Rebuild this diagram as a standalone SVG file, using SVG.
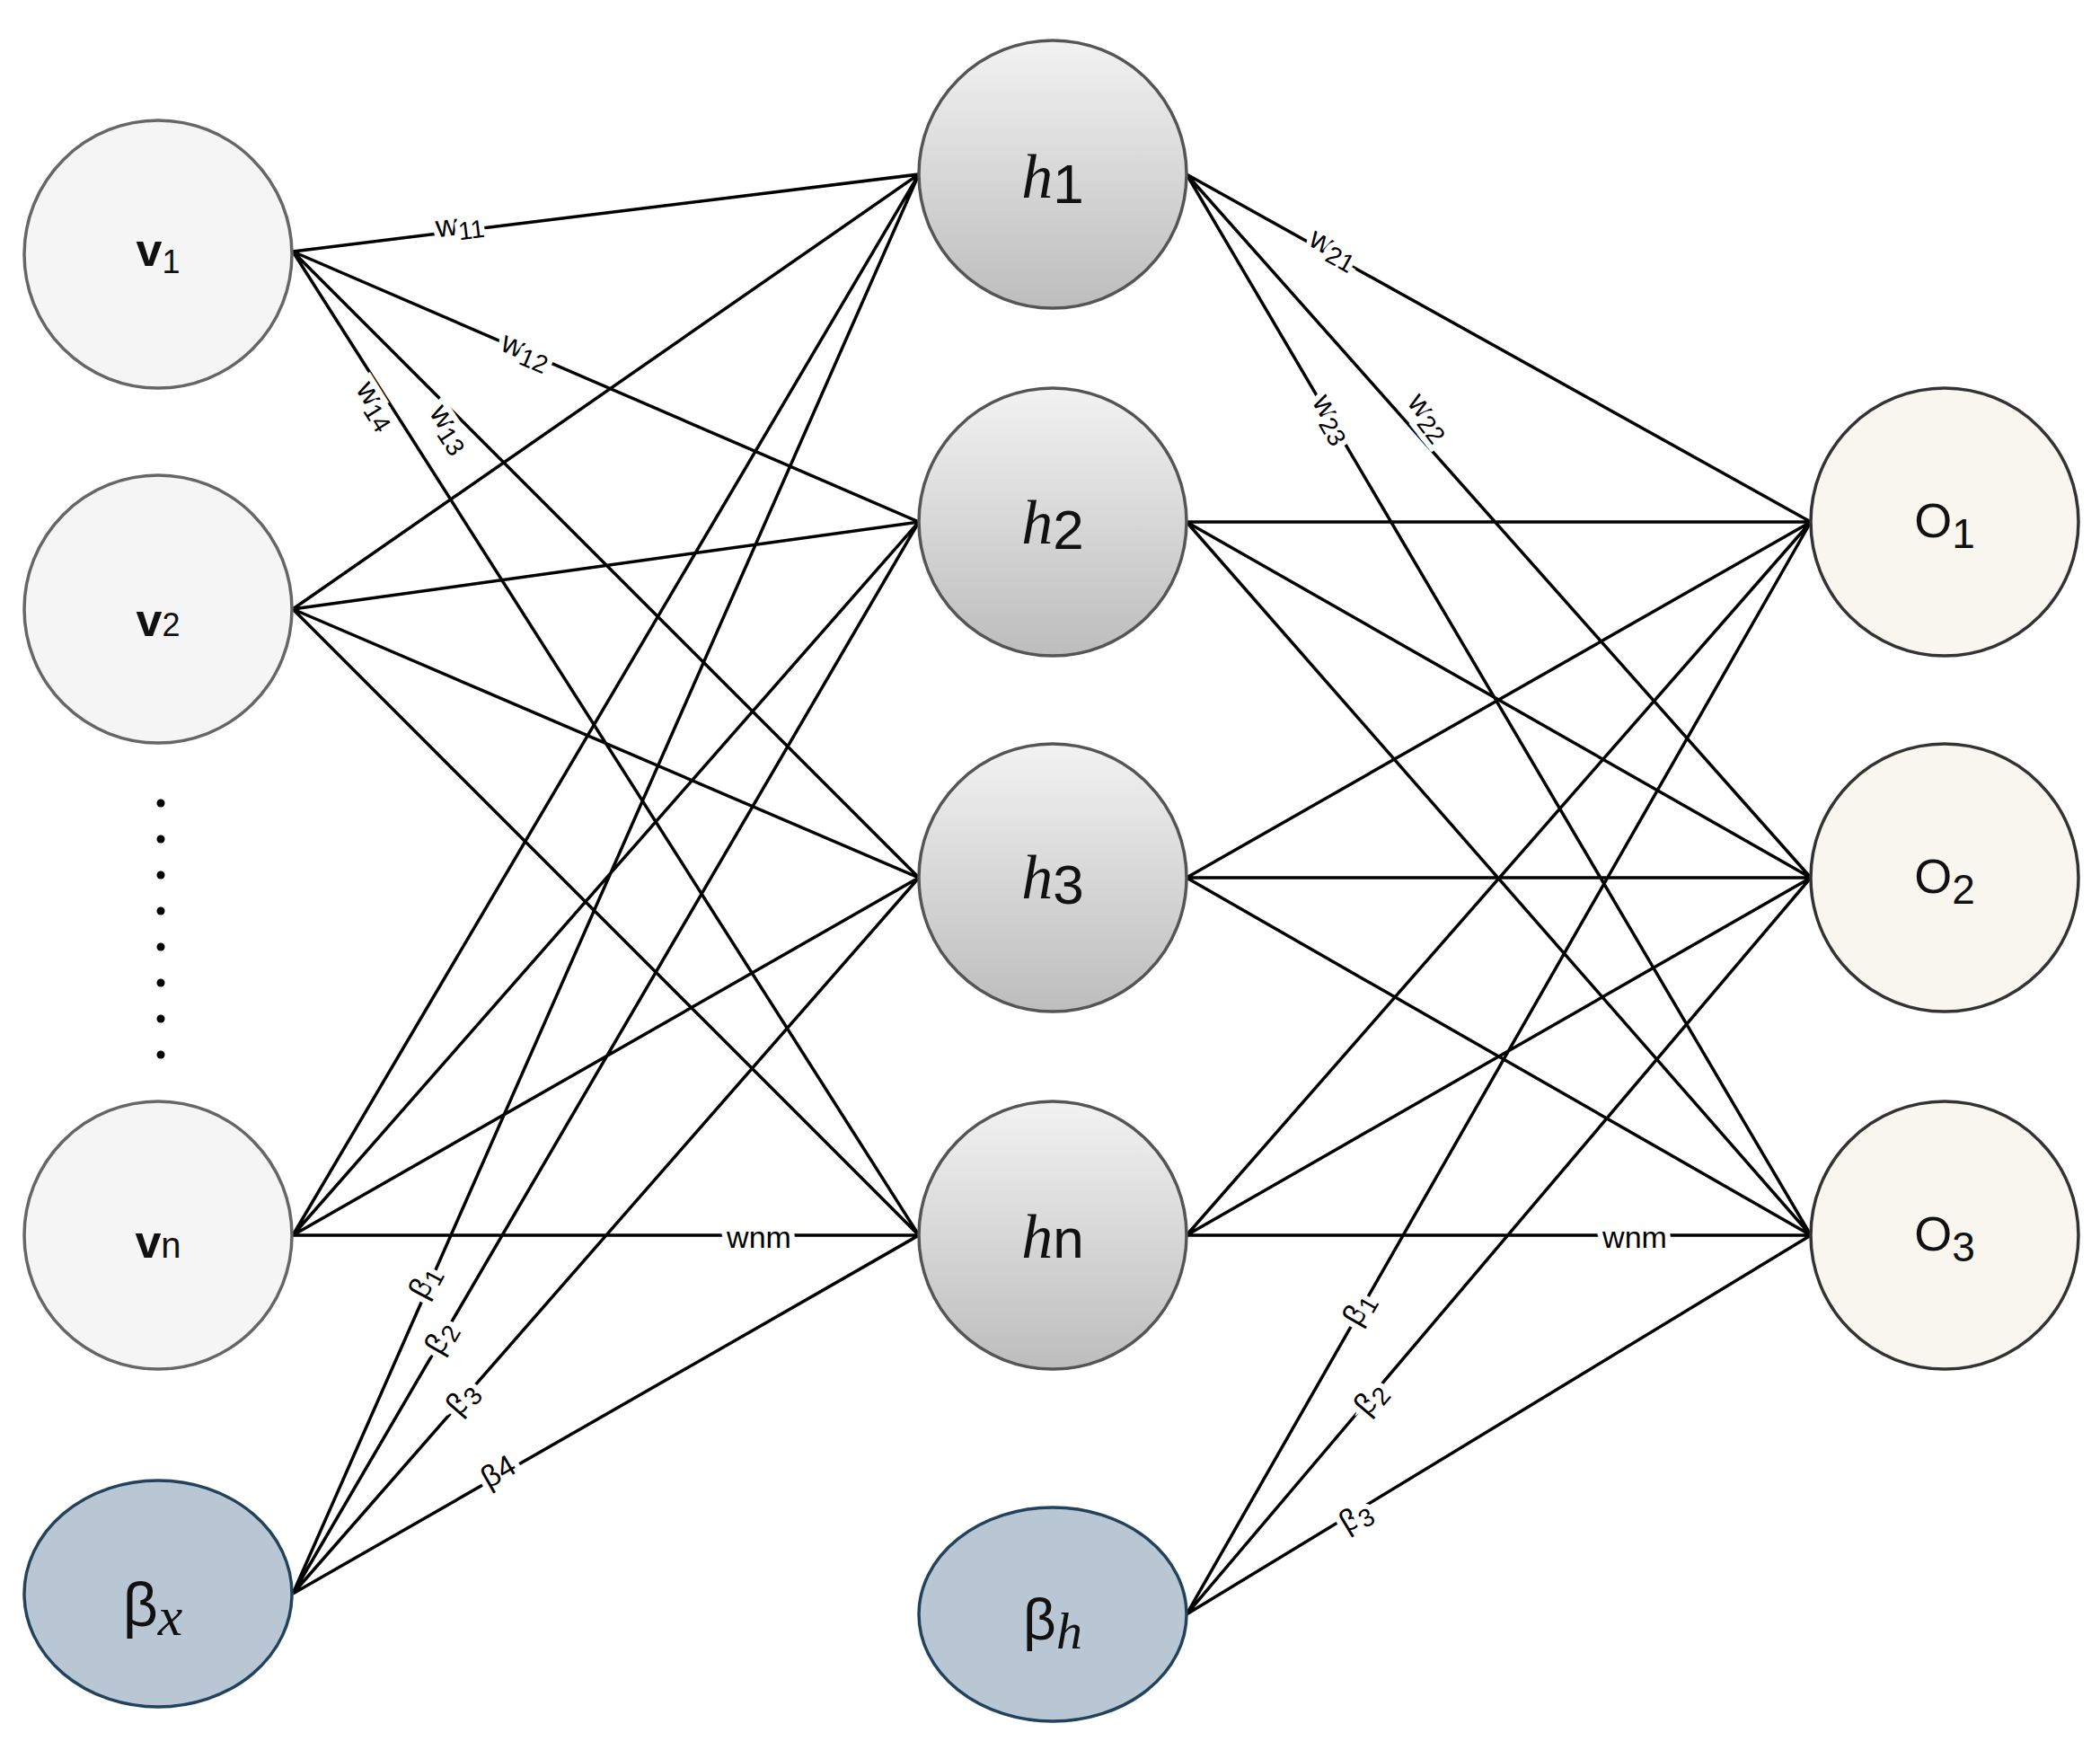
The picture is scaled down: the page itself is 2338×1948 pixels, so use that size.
<svg xmlns="http://www.w3.org/2000/svg" width="2338" height="1948" viewBox="0 0 2338 1948">
<defs>
<linearGradient id="hg" x1="0" y1="0" x2="0" y2="1"><stop offset="0" stop-color="#f2f2f2"/><stop offset="1" stop-color="#bdbdbd"/></linearGradient>
<style>
.e{stroke:#000;stroke-width:3.5;fill:none}
.in{fill:#f5f5f5;stroke:#666;stroke-width:3.5}
.hid{fill:url(#hg);stroke:#555;stroke-width:3.5}
.out{fill:#f8f6ee;stroke:#333;stroke-width:3.5}
.bias{fill:#b8c7d3;stroke:#23425c;stroke-width:3.5}
.lb{font-family:"Liberation Sans",Arial,sans-serif;font-size:34px;fill:#000;stroke:#fff;stroke-width:12px;paint-order:stroke;text-anchor:middle;dominant-baseline:middle}
.s{font-size:28px}
.nl{font-family:"Liberation Sans",Arial,sans-serif;fill:#111;text-anchor:middle}
.it{font-family:"Liberation Serif","Times New Roman",serif;font-style:italic}
</style>
</defs>
<g id="connectors">
<path class="e" d="M326,280L1023,194M326,280L1023,581M326,280L1023,977M326,280L1023,1375
M326,678L1023,194M326,678L1023,581M326,678L1023,977M326,678L1023,1375
M326,1375L1023,194M326,1375L1023,581M326,1375L1023,977M326,1375L1023,1375
M326,1774L1023,194M326,1774L1023,581M326,1774L1023,977M326,1774L1023,1375
M1321,194L2016,581M1321,194L2016,977M1321,194L2016,1375
M1321,581L2016,581M1321,581L2016,977M1321,581L2016,1375
M1321,977L2016,581M1321,977L2016,977M1321,977L2016,1375
M1321,1375L2016,581M1321,1375L2016,977M1321,1375L2016,1375
M1321,1797L2016,581M1321,1797L2016,977M1321,1797L2016,1375"/>
<text class="lb" transform="translate(512,252) rotate(-7)">w<tspan class="s" dy="8">11</tspan></text>
<text class="lb" transform="translate(585,392) rotate(23)">w<tspan class="s" dy="8">12</tspan></text>
<text class="lb" transform="translate(500,478) rotate(57)">w<tspan class="s" dy="8">13</tspan></text>
<text class="lb" transform="translate(418,452) rotate(58)">w<tspan class="s" dy="8">14</tspan></text>
<text class="lb" x="845" y="1380">wnm</text>
<text class="lb" transform="translate(1484,278) rotate(29)">w<tspan class="s" dy="8">21</tspan></text>
<text class="lb" transform="translate(1590,465) rotate(52)">w<tspan class="s" dy="8">22</tspan></text>
<text class="lb" transform="translate(1482,467) rotate(60)">w<tspan class="s" dy="8">23</tspan></text>
<text class="lb" x="1820" y="1380">wnm</text>
<text class="lb" transform="translate(474,1428) rotate(-62)">β<tspan class="s" dy="8">1</tspan></text>
<text class="lb" transform="translate(492,1490) rotate(-60)">β<tspan class="s" dy="8">2</tspan></text>
<text class="lb" transform="translate(516,1558) rotate(-49)">β<tspan class="s" dy="8">3</tspan></text>
<text class="lb" transform="translate(556,1640) rotate(-30)">β4</text>
<text class="lb" transform="translate(1514,1458) rotate(-60)">β<tspan class="s" dy="8">1</tspan></text>
<text class="lb" transform="translate(1527,1558) rotate(-50)">β<tspan class="s" dy="8">2</tspan></text>
<text class="lb" transform="translate(1510,1690) rotate(-31)">β<tspan class="s" dy="8">3</tspan></text>
</g>
<g id="v1"><circle class="in" cx="176" cy="283" r="149"/><text class="nl" x="176" y="296" font-size="52" font-weight="bold">v<tspan font-size="36" font-weight="normal" dy="8">1</tspan></text></g>
<g id="v2"><circle class="in" cx="176" cy="678" r="149"/><text class="nl" x="176" y="708" font-size="52" font-weight="bold">v<tspan font-size="36" font-weight="normal">2</tspan></text></g>
<g id="dots" fill="#000"><circle cx="179" cy="894" r="4.5"/><circle cx="179" cy="934" r="4.5"/><circle cx="179" cy="974" r="4.5"/><circle cx="179" cy="1014" r="4.5"/><circle cx="179" cy="1054" r="4.5"/><circle cx="179" cy="1094" r="4.5"/><circle cx="179" cy="1134" r="4.5"/><circle cx="179" cy="1174" r="4.5"/></g>
<g id="vn"><circle class="in" cx="176" cy="1375" r="149"/><text class="nl" x="176" y="1400" font-size="52" font-weight="bold">v<tspan font-size="40" font-weight="normal">n</tspan></text></g>
<g id="bx"><ellipse class="bias" cx="176" cy="1774" rx="149" ry="126"/><text class="nl" x="170" y="1810" font-size="68">β<tspan class="it" font-size="62" dy="10">x</tspan></text></g>
<g id="h1"><circle class="hid" cx="1172" cy="194" r="149"/><text class="nl" x="1172" y="220" font-size="62"><tspan class="it" font-size="70">h</tspan><tspan dy="6">1</tspan></text></g>
<g id="h2"><circle class="hid" cx="1172" cy="581" r="149"/><text class="nl" x="1172" y="605" font-size="62"><tspan class="it" font-size="70">h</tspan><tspan dy="6">2</tspan></text></g>
<g id="h3"><circle class="hid" cx="1172" cy="977" r="149"/><text class="nl" x="1172" y="1000" font-size="62"><tspan class="it" font-size="70">h</tspan><tspan dy="6">3</tspan></text></g>
<g id="hn"><circle class="hid" cx="1172" cy="1375" r="149"/><text class="nl" x="1172" y="1400" font-size="62"><tspan class="it" font-size="70">h</tspan>n</text></g>
<g id="bh"><ellipse class="bias" cx="1172" cy="1797" rx="149" ry="119"/><text class="nl" x="1172" y="1825" font-size="64">β<tspan class="it" font-size="58" dy="10">h</tspan></text></g>
<g id="o1"><circle class="out" cx="2165" cy="581" r="149"/><text class="nl" x="2165" y="598" font-size="54">O<tspan font-size="46" dy="12">1</tspan></text></g>
<g id="o2"><circle class="out" cx="2165" cy="977" r="149"/><text class="nl" x="2165" y="994" font-size="54">O<tspan font-size="46" dy="12">2</tspan></text></g>
<g id="o3"><circle class="out" cx="2165" cy="1375" r="149"/><text class="nl" x="2165" y="1392" font-size="54">O<tspan font-size="46" dy="12">3</tspan></text></g>
</svg>
